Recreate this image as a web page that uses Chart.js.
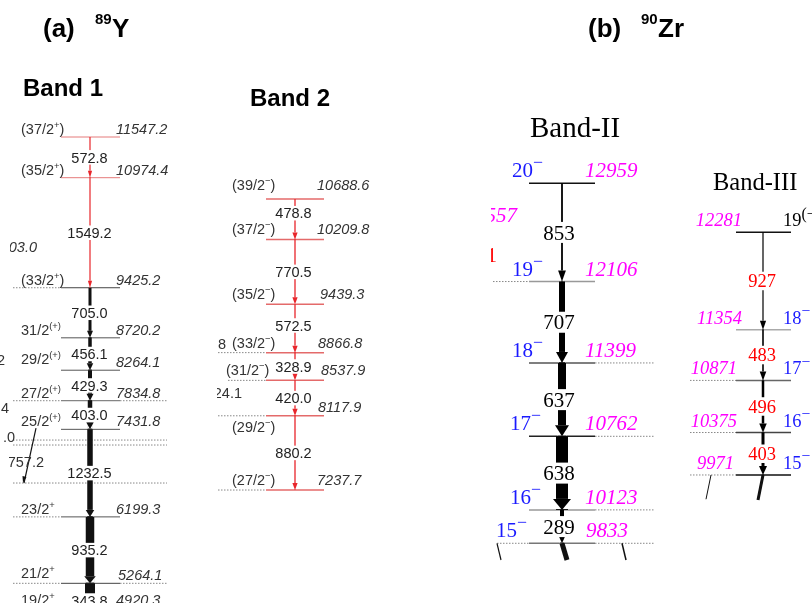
<!DOCTYPE html>
<html><head><meta charset="utf-8">
<script src="https://cdn.jsdelivr.net/npm/chart.js@4/dist/chart.umd.min.js"></script>
<style>html,body{margin:0;padding:0;background:#fff}#wrap{width:812px;height:603px;position:relative}</style>
</head><body><div id="wrap"><canvas id="c"></canvas></div>
<script>
// ---------------- DATA ----------------
// (a) 89Y, Band 1
const band1Energies = [11547.2, 10974.4, 9425.2, 8720.2, 8264.1, 7834.8, 7431.8, 6199.3, 5264.1, 4920.3];
const band1Spins = ["(37/2^{+})", "(35/2^{+})", "(33/2^{+})", "31/2^{(+)}", "29/2^{(+)}", "27/2^{(+)}", "25/2^{(+)}", "23/2^{+}", "21/2^{+}", "19/2^{+}"];
const band1Gammas = ["572.8", "1549.2", "705.0", "456.1", "429.3", "403.0", "1232.5", "935.2", "343.8"];
const band1Intensity = [1.2, 1.2, 3, 3.5, 4, 4.5, 5.5, 8.5, 10];
// (a) 89Y, Band 2
const band2Energies = [10688.6, 10209.8, 9439.3, 8866.8, 8537.9, 8117.9, 7237.7];
const band2Spins = ["(39/2^{−})", "(37/2^{−})", "(35/2^{−})", "(33/2^{−})", "(31/2^{−})", "(29/2^{−})", "(27/2^{−})"];
const band2Gammas = ["478.8", "770.5", "572.5", "328.9", "420.0", "880.2"];
const band2Intensity = [1.3, 1.3, 1.3, 1.3, 1.3, 1.3];
// (b) 90Zr, Band-II
const bandIIEnergies = [12959, 12106, 11399, 10762, 10123, 9833];
const bandIISpins = ["20^{−}", "19^{−}", "18^{−}", "17^{−}", "16^{−}", "15^{−}"];
const bandIIGammas = ["853", "707", "637", "638", "289"];
const bandIIIntensity = [1.8, 6, 8, 12, 4];
// (b) 90Zr, Band-III
const bandIIIEnergies = [12281, 11354, 10871, 10375, 9971];
const bandIIISpins = ["19^{(−)}", "18^{−}", "17^{−}", "16^{−}", "15^{−}"];
const bandIIIGammas = ["927", "483", "496", "403"];
const bandIIIIntensity = [1.2, 1.6, 2.5, 3];
// levels of neighbouring (cut-off) bands crossing Band 1 region
const band1OtherLevels = [7281, 7211, 6676];
// partially visible transitions from neighbouring bands [fromE, toE]
const partialTransitions = [
  {axis: 'yB1', E: [7450, 6676]},
  {axis: 'yBII', E: [9833, 9688]},
  {axis: 'yBII', E: [9833, 9688]},
  {axis: 'yBII', E: [9833, 9688]},
  {axis: 'yBIII', E: [9971, 9733]},
  {axis: 'yBIII', E: [9971, 9740]}
];

// ---------------- LAYOUT / STYLE ----------------
const SANS = "'Liberation Sans', Arial, sans-serif";
const SERIF = "'Liberation Serif', 'Times New Roman', serif";
const layout = {
  b1: { axis: 'yB1', min: 4987, max: 13476, x0: 61, x1: 120, xArrow: 90, gx: 89.5,
    levelColor: ['#e57a7a','#e57a7a','#444','#555','#555','#666','#555','#555','#444','#444'], levelWidth: 1,
    ext: [null, null, [13, null], null, null, [13, 167], null, [13, null], [13, 167], [13, 167]],
    transColor: ['#e8262b','#e8262b','#111','#111','#111','#111','#111','#111','#111'],
    headExtra: 3, headLen: 7, supScale: 0.65,
    font: SANS, size: 14.5, capH: 0.716, textColor: '#333', gammaColor: '#222',
    spinX: 21, spinAlign: 'left', spinDy: [-3,-3,-3,-3,-6,-3,-3,-3,-5,-3], spinXs: null, spinColor: null,
    enX: [116,116,116,116,116,116,116,116,118,116], enAlign: 'left', enDy: -3, gdy: [0,0,0,0,0,0,0,0,5] },
  b2: { axis: 'yB2', min: 5898, max: 13048.4, x0: 266, x1: 324, xArrow: 295, gx: 293.5,
    levelColor: Array(7).fill('#e46a6a'), levelWidth: 1.5,
    ext: [null, null, null, [218, null], [228, null], [218, null], [218, null]],
    transColor: Array(6).fill('#e8262b'),
    headExtra: 4, headLen: 7, supScale: 0.65,
    font: SANS, size: 14.5, capH: 0.716, textColor: '#333', gammaColor: '#222',
    spinX: 232, spinAlign: 'left', spinDy: [-9,-5,-5,-5,-5,16,-5], spinXs: [232,232,232,232,226,232,232], spinColor: null,
    enX: [317,317,320,318,321,318,317], enAlign: 'left', enDy: -5, enDys: [-9,-5,-5,-5,-5,-4,-5], gdy: [-6,0,-3,0,0,0] },
  bII: { axis: 'yBII', min: 9314.5, max: 14550.7, x0: 529, x1: 595, xArrow: 562, gx: 559,
    levelColor: ['#111','#999','#555','#222','#999','#777'], levelWidth: 1.5,
    ext: [null, [493, null], [null, 655], [null, 655], [null, 655], [497, 655]],
    transColor: Array(5).fill('#000'),
    headExtra: 6, headLen: 11, supScale: 0.85,
    font: SERIF, size: 21, capH: 0.676, textColor: '#1a1aff', gammaColor: '#000',
    spinX: 542, spinAlign: 'right', spinDy: [-6,-6,-6,-6,-6,-6], spinXs: [543,543,543,541,541,527], spinColor: null,
    enX: [585,585,585,585,585,586], enAlign: 'left', enDy: -6, enColor: '#ff00ff', gdy: [0,0,0,0,0] },
  bIII: { axis: 'yBIII', min: 8752.4, max: 14492, x0: 736, x1: 791, xArrow: 763, gx: 762,
    levelColor: ['#111','#aaa','#666','#444','#111'], levelWidth: 1.5,
    ext: [null, null, [690, null], [690, null], [690, null]],
    transColor: Array(4).fill('#000'),
    headExtra: 5, headLen: 9, supScale: 0.85,
    font: SERIF, size: 18.5, capH: 0.676, textColor: '#1a1aff', gammaColor: '#ff0000',
    spinX: 783, spinAlign: 'left', spinDy: [-6,-6,-6,-6,-6], spinXs: null, spinColor: ['#000', null, null, null, null],
    enX: [742,742,737,737,734], enAlign: 'right', enDy: -6, enColor: '#ff00ff', gdy: [0,0,0,0] }
};
const partialLayout = [
  {x: [36, 24], w: 1.2, head: true},
  {x: [497, 501], w: 1.2},
  {x: [562, 567], w: 5},
  {x: [622, 626], w: 1.5},
  {x: [763, 758], w: 3},
  {x: [711, 706], w: 1}
];
const headers = [
  {t: "(a)", x: 43, y: 37, size: 26, font: SANS, weight: 'bold'},
  {t: "89", x: 95, y: 24, size: 15, font: SANS, weight: 'bold'},
  {t: "Y", x: 112, y: 37, size: 26, font: SANS, weight: 'bold'},
  {t: "(b)", x: 588, y: 37, size: 26, font: SANS, weight: 'bold'},
  {t: "90", x: 641, y: 24, size: 15, font: SANS, weight: 'bold'},
  {t: "Zr", x: 658, y: 37, size: 26, font: SANS, weight: 'bold'},
  {t: "Band 1", x: 23, y: 96, size: 24, font: SANS, weight: 'bold'},
  {t: "Band 2", x: 250, y: 106, size: 24, font: SANS, weight: 'bold'},
  {t: "Band-II", x: 530, y: 137, size: 29, font: SERIF, weight: 'normal'},
  {t: "Band-III", x: 713, y: 190, size: 24.5, font: SERIF, weight: 'normal'}
];
const fragments = [
  {t: "9903.0", x: 37, y: 252, align: 'right', font: SANS, size: 14.5, style: 'italic', color: '#333', clip: 10},
  {t: "2", x: 5, y: 365, align: 'right', font: SANS, size: 14.5, color: '#333', clip: 0},
  {t: "4.4", x: 9, y: 413, align: 'right', font: SANS, size: 14.5, color: '#333', clip: 0},
  {t: "3.0", x: 15, y: 442, align: 'right', font: SANS, size: 14.5, color: '#333', clip: 3},
  {t: "1757.2", x: 44, y: 467, align: 'right', font: SANS, size: 14.5, color: '#333', clip: 9},
  {t: "8", x: 226, y: 349, align: 'right', font: SANS, size: 14.5, color: '#333', clip: 217},
  {t: "24.1", x: 242, y: 398, align: 'right', font: SANS, size: 14.5, color: '#333', clip: 217},
  {t: "1557", x: 517, y: 222, align: 'right', font: SERIF, size: 21, style: 'italic', color: '#ff00ff', clip: 491},
  {t: "1", x: 497, y: 262, align: 'right', font: SERIF, size: 21, color: '#ff0000', clip: 491}
];

// ---------------- BUILD ----------------
const bands = [
  {E: band1Energies, S: band1Spins, G: band1Gammas, I: band1Intensity, L: layout.b1},
  {E: band2Energies, S: band2Spins, G: band2Gammas, I: band2Intensity, L: layout.b2},
  {E: bandIIEnergies, S: bandIISpins, G: bandIIGammas, I: bandIIIntensity, L: layout.bII},
  {E: bandIIIEnergies, S: bandIIISpins, G: bandIIIGammas, I: bandIIIIntensity, L: layout.bIII}
];
const base = {showLine: true, pointRadius: 0, fill: false, tension: 0, borderCapStyle: 'butt'};
const datasets = [];
bands.forEach(b => {
  const L = b.L;
  b.E.forEach((E, i) => {
    datasets.push({...base, data: [{x: L.x0, y: E}, {x: L.x1, y: E}], yAxisID: L.axis,
      borderColor: L.levelColor[i], borderWidth: L.levelWidth, order: 3});
    const ext = L.ext[i];
    if (ext) {
      if (ext[0] != null) datasets.push({...base, data: [{x: ext[0], y: E}, {x: L.x0, y: E}], yAxisID: L.axis,
        borderColor: '#888', borderWidth: 1, borderDash: [1.5, 1.5], order: 4});
      if (ext[1] != null) datasets.push({...base, data: [{x: L.x1, y: E}, {x: ext[1], y: E}], yAxisID: L.axis,
        borderColor: '#888', borderWidth: 1, borderDash: [1.5, 1.5], order: 4});
    }
  });
  b.G.forEach((g, i) => {
    datasets.push({...base, data: [{x: L.xArrow, y: b.E[i]}, {x: L.xArrow, y: b.E[i + 1]}], yAxisID: L.axis,
      borderColor: L.transColor[i], borderWidth: b.I[i], order: 1});
  });
});
band1OtherLevels.forEach(E => {
  datasets.push({...base, data: [{x: 13, y: E}, {x: 167, y: E}], yAxisID: 'yB1',
    borderColor: '#888', borderWidth: 1, borderDash: [1.5, 1.5], order: 4});
});
partialTransitions.forEach((p, i) => {
  const pl = partialLayout[i];
  datasets.push({...base, data: [{x: pl.x[0], y: p.E[0]}, {x: pl.x[1], y: p.E[1]}], yAxisID: p.axis,
    borderColor: '#111', borderWidth: pl.w, order: 2});
});

function drawRich(ctx, str, x, y, align, size, family, style, color, supScale) {
  const parts = []; const re = /\^\{([^}]*)\}/g; let last = 0, m;
  while ((m = re.exec(str))) {
    if (m.index > last) parts.push({t: str.slice(last, m.index), sup: false});
    parts.push({t: m[1], sup: true}); last = re.lastIndex;
  }
  if (last < str.length) parts.push({t: str.slice(last), sup: false});
  const sc = supScale || 0.65;
  const fontFor = sup => `${style || 'normal'} normal ${sup ? size * sc : size}px ${family}`;
  let total = 0;
  parts.forEach(p => { ctx.font = fontFor(p.sup); p.w = ctx.measureText(p.t).width; total += p.w; });
  let cx = align === 'left' ? x : align === 'right' ? x - total : x - total / 2;
  ctx.fillStyle = color; ctx.textBaseline = 'alphabetic'; ctx.textAlign = 'left';
  parts.forEach(p => { ctx.font = fontFor(p.sup); ctx.fillText(p.t, cx, p.sup ? y - size * 0.42 : y); cx += p.w; });
}

const annot = {
  id: 'annot',
  afterDatasetsDraw(chart) {
    const ctx = chart.ctx, X = chart.scales.x;
    ctx.save();
    bands.forEach(b => {
      const L = b.L, Y = chart.scales[L.axis];
      const xa = X.getPixelForValue(L.xArrow);
      // arrow heads
      b.G.forEach((g, i) => {
        const w = b.I[i];
        const tip = Y.getPixelForValue(b.E[i + 1]);
        const hw = (w + L.headExtra) / 2, hl = L.headLen;
        ctx.fillStyle = '#fff';
        ctx.fillRect(xa - w / 2 - 0.5, tip - hl, w + 1, hl - 0.8);
        ctx.fillStyle = L.transColor[i];
        ctx.beginPath(); ctx.moveTo(xa - hw, tip - hl); ctx.lineTo(xa + hw, tip - hl); ctx.lineTo(xa, tip); ctx.closePath(); ctx.fill();
      });
      // gamma labels
      b.G.forEach((g, i) => {
        const y1 = Y.getPixelForValue(b.E[i]), y2 = Y.getPixelForValue(b.E[i + 1]);
        const cy = (y1 + y2) / 2 + (L.gdy ? L.gdy[i] : 0);
        const gx = X.getPixelForValue(L.gx);
        ctx.font = `normal ${L.size}px ${L.font}`;
        const tw = ctx.measureText(g).width;
        ctx.fillStyle = '#fff';
        ctx.fillRect(gx - tw / 2 - 1, cy - L.size * 0.5, tw + 2, L.size);
        ctx.fillStyle = L.gammaColor; ctx.textAlign = 'center'; ctx.textBaseline = 'alphabetic';
        ctx.fillText(g, gx, cy + L.size * L.capH / 2);
      });
      // spin and energy labels
      b.E.forEach((E, i) => {
        const yp = Y.getPixelForValue(E);
        const sx = L.spinXs ? L.spinXs[i] : L.spinX;
        const sc = (L.spinColor && L.spinColor[i]) || L.textColor;
        drawRich(ctx, b.S[i], X.getPixelForValue(sx), yp + L.spinDy[i], L.spinAlign, L.size, L.font, 'normal', sc, L.supScale);
        const edy = L.enDys ? L.enDys[i] : L.enDy;
        drawRich(ctx, E.toFixed(L.font === SANS ? 1 : 0), X.getPixelForValue(L.enX[i]), yp + edy, L.enAlign, L.size, L.font, 'italic', L.enColor || L.textColor);
      });
    });
    // partial transition head (band 1 neighbour)
    partialTransitions.forEach((p, i) => {
      const pl = partialLayout[i]; if (!pl.head) return;
      const Y = chart.scales[p.axis];
      const x1 = X.getPixelForValue(pl.x[1]), y1 = Y.getPixelForValue(p.E[1]);
      ctx.fillStyle = '#111'; ctx.beginPath();
      ctx.moveTo(x1 - 1, y1); ctx.lineTo(x1 - 1.5, y1 - 7); ctx.lineTo(x1 + 2.5, y1 - 6); ctx.closePath(); ctx.fill();
    });
    // fragments
    fragments.forEach(f => {
      ctx.save(); ctx.beginPath(); ctx.rect(f.clip, 0, 812, 603); ctx.clip();
      drawRich(ctx, f.t, f.x, f.y, f.align, f.size, f.font, f.style || 'normal', f.color);
      ctx.restore();
    });
    // headers
    headers.forEach(h => {
      ctx.font = `normal ${h.weight} ${h.size}px ${h.font}`;
      ctx.fillStyle = '#000'; ctx.textAlign = 'left'; ctx.textBaseline = 'alphabetic';
      ctx.fillText(h.t, h.x, h.y);
    });
    ctx.restore();
  }
};

const scales = {x: {type: 'linear', min: 0, max: 812, display: false}};
Object.values(layout).forEach(L => { scales[L.axis] = {type: 'linear', min: L.min, max: L.max, display: false}; });

new Chart(document.getElementById('c'), {
  type: 'scatter',
  data: {datasets},
  options: {
    responsive: true, maintainAspectRatio: false, animation: false, events: [],
    layout: {padding: 0},
    plugins: {legend: {display: false}, tooltip: {enabled: false}, title: {display: false}},
    scales
  },
  plugins: [annot]
});
</script></body></html>
